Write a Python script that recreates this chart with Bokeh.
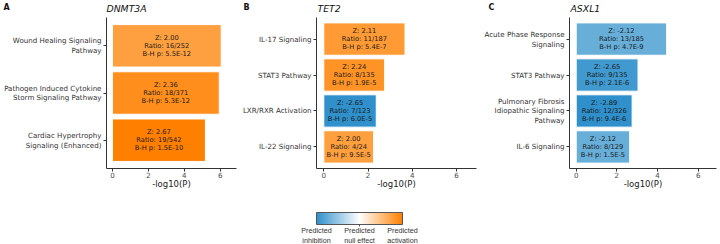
from bokeh.plotting import figure
from bokeh.layouts import column, row
from bokeh.models import ColumnDataSource, LinearColorMapper, FixedTicker, Range1d
from bokeh.transform import transform
from bokeh.core.properties import value
from bokeh.embed import file_html
from bokeh.resources import INLINE
import numpy as np

# ---------------- data ----------------
a_gene = "DNMT3A"
a_paths = ["Wound Healing Signaling\nPathway",
           "Pathogen Induced Cytokine\nStorm Signaling Pathway",
           "Cardiac Hypertrophy\nSignaling (Enhanced)"]
a_logp = [6.05, 5.94, 5.17]
a_z = [2.00, 2.36, 2.67]
a_ratio = ["16/252", "18/371", "19/542"]
a_bh = ["5.5E-12", "5.3E-12", "1.5E-10"]

b_gene = "TET2"
b_paths = ["IL-17 Signaling", "STAT3 Pathway", "LXR/RXR Activation", "IL-22 Signaling"]
b_logp = [3.67, 2.75, 2.37, 2.25]
b_z = [2.11, 2.24, -2.65, 2.00]
b_ratio = ["11/187", "8/135", "7/123", "4/24"]
b_bh = ["5.4E-7", "1.9E-5", "6.0E-5", "9.5E-5"]

c_gene = "ASXL1"
c_paths = ["Acute Phase Response\nSignaling", "STAT3 Pathway",
           "Pulmonary Fibrosis\nIdiopathic Signaling\nPathway", "IL-6 Signaling"]
c_logp = [4.45, 3.04, 2.75, 2.63]
c_z = [-2.12, -2.65, -2.89, -2.12]
c_ratio = ["13/185", "9/135", "12/326", "8/129"]
c_bh = ["4.7E-9", "2.1E-6", "9.4E-6", "1.5E-5"]

panel_letters = ["A", "B", "C"]
genes = [a_gene, b_gene, c_gene]
x_ticks = [0, 2, 4, 6]
legend_labels = ["Predicted\ninhibition", "Predicted\nnull effect", "Predicted\nactivation"]

# ---------------- palette ----------------
BLUE = (48, 144, 203)
ORANGE = (255, 128, 0)


def mix(c, f):
    return "#%02x%02x%02x" % tuple(int(round(255 + (ci - 255) * f)) for ci in c)


PAL = []
for i in range(256):
    t = -1 + 2 * i / 255
    PAL.append(mix(BLUE, -t) if t < 0 else mix(ORANGE, t))

FONT = "DejaVu Sans"
FH = 151
BOT = 30
TOPH = 17
LEGH = 46

# panel layout (left border, frame width) and header positions (px)
lefts = [106, 77, 90]
fws = [130, 160, 147]
letter_px = [3, 243, 488]
gene_px = [106, 317, 570]
# colour bar geometry (px within legend strip)
CB_X, CB_Y, CB_W, CB_H = 316, 14, 86, 12


def panel(paths, logp, z, ratio, bh, left, fw):
    n = len(paths)
    ypos = [n - i for i in range(n)]
    m = max(abs(v) for v in z)
    mapper = LinearColorMapper(palette=PAL, low=-m, high=m)
    labs = [f"Z: {zv:.2f}\nRatio: {r}\nB-H p: {b}" for zv, r, b in zip(z, ratio, bh)]
    src = ColumnDataSource(dict(y=ypos, right=logp, mid=[v / 2 for v in logp], z=z, lab=labs))
    p = figure(frame_width=fw, frame_height=FH, output_backend="svg", toolbar_location=None,
               x_range=Range1d(-0.33, 6.9), y_range=Range1d(0.4, n + 0.6),
               min_border_left=left, min_border_right=3, min_border_top=0, min_border_bottom=BOT)
    p.hbar(y="y", left=0, right="right", height=0.9, source=src,
           fill_color=transform("z", mapper), line_color="white", line_width=1)
    p.text(x="mid", y="y", text="lab", source=src, text_align="center", text_baseline="middle",
           text_font=value(FONT), text_font_size="6.7px", text_line_height=0.97, text_color="#1a1a1a")
    p.xgrid.visible = False
    p.ygrid.visible = False
    p.outline_line_color = None
    for ax in (p.xaxis, p.yaxis):
        ax.axis_line_color = "#333333"
        ax.axis_line_width = 1
        ax.major_tick_line_color = "#333333"
        ax.major_tick_in = 0
        ax.major_tick_out = 3
        ax.minor_tick_line_color = None
        ax.major_label_text_font = FONT
        ax.major_label_text_font_size = "7.1px"
        ax.major_label_standoff = 2
    p.xaxis.ticker = FixedTicker(ticks=x_ticks)
    p.xaxis.major_label_standoff = 0
    p.xaxis.major_label_text_color = "#4d4d4d"
    p.xaxis.axis_label = "-log10(P)"
    p.xaxis.axis_label_text_font = FONT
    p.xaxis.axis_label_text_font_size = "8.5px"
    p.xaxis.axis_label_text_font_style = "normal"
    p.xaxis.axis_label_text_color = "#222222"
    p.xaxis.axis_label_standoff = -2
    p.yaxis.ticker = FixedTicker(ticks=ypos)
    p.yaxis.major_label_overrides = {yv: lab for yv, lab in zip(ypos, paths)}
    p.yaxis.major_label_text_color = "#333333"
    p.yaxis.major_label_text_line_height = 1.1
    return p


def strip(h):
    s = figure(width=720, height=h, output_backend="svg", toolbar_location=None,
               x_range=Range1d(0, 720), y_range=Range1d(h, 0),
               min_border_left=0, min_border_right=0, min_border_top=0, min_border_bottom=0)
    s.axis.visible = False
    s.grid.visible = False
    s.outline_line_color = None
    return s


pa = panel(a_paths, a_logp, a_z, a_ratio, a_bh, lefts[0], fws[0])
pb = panel(b_paths, b_logp, b_z, b_ratio, b_bh, lefts[1], fws[1])
pc = panel(c_paths, c_logp, c_z, c_ratio, c_bh, lefts[2], fws[2])

# ---------------- header strip (panel letters + gene titles) ----------------
ph = strip(TOPH)
ph.text(x=letter_px, y=[2.5] * 3, text=panel_letters, text_font=value(FONT), text_font_style="bold",
        text_font_size="8px", text_baseline="top", text_align="left", text_color="#111111")
ph.text(x=gene_px, y=[2] * 3, text=genes, text_font=value(FONT), text_font_style="italic",
        text_font_size="9.3px", text_baseline="top", text_align="left", text_color="#111111")

# ---------------- legend strip (colour bar) ----------------
pl = strip(LEGH)
lmap = LinearColorMapper(palette=PAL, low=-1, high=1)
pl.image(image=[np.linspace(-1, 1, 256).reshape(1, -1)], x=CB_X, y=CB_Y, dw=CB_W, dh=CB_H,
         color_mapper=lmap)
pl.rect(x=CB_X + CB_W / 2, y=CB_Y + CB_H / 2, width=CB_W, height=CB_H,
        fill_color=None, line_color="#555555", line_width=1)
pl.segment(x0=CB_X + CB_W / 2, y0=CB_Y + CB_H, x1=CB_X + CB_W / 2, y1=CB_Y + CB_H + 2,
           line_color="#555555", line_width=1)
pl.text(x=[CB_X, CB_X + CB_W / 2, CB_X + CB_W], y=[CB_Y + CB_H + 1.5] * 3, text=legend_labels,
        text_font=value("Liberation Sans"), text_font_size="7.2px", text_baseline="top",
        text_align="center", text_line_height=1.08, text_color="#333333")

layout = column(ph, row(pa, pb, pc), pl)
open("out.html", "w").write(file_html(layout, INLINE))
